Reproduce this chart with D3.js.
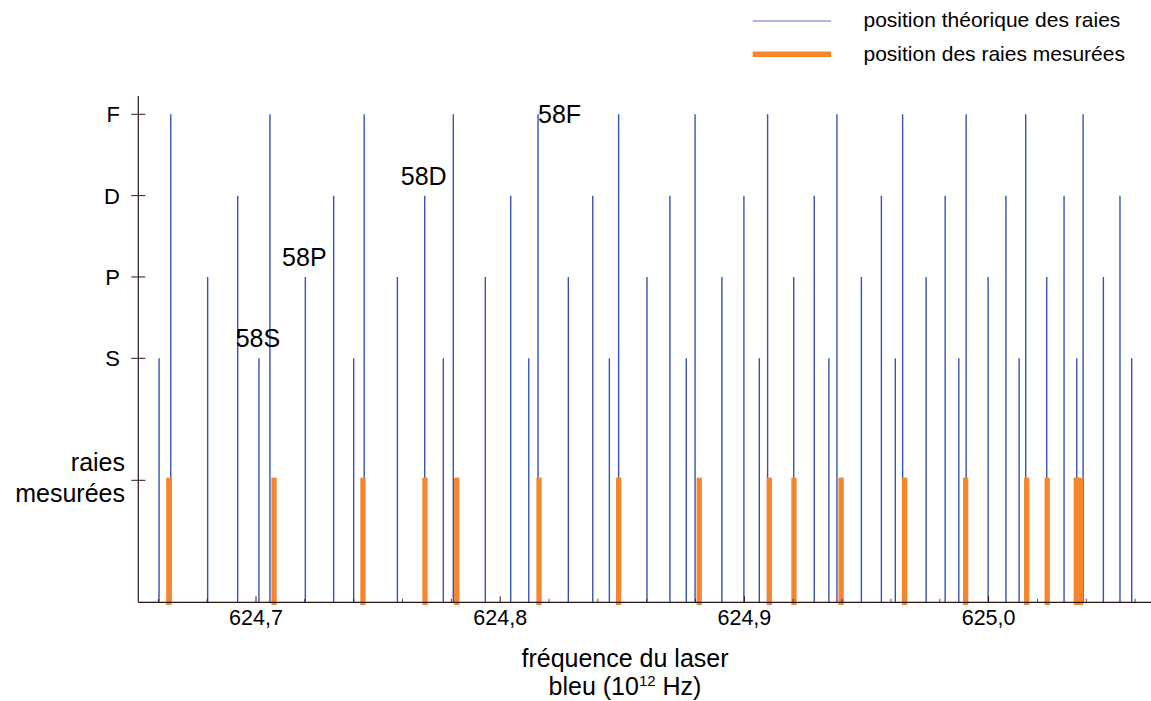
<!DOCTYPE html>
<html>
<head>
<meta charset="utf-8">
<script src="https://cdn.jsdelivr.net/npm/d3@7"></script>
<style>
  html, body { margin: 0; padding: 0; background: #fff; }
  svg { display: block; font-family: "Liberation Sans", Arial, Helvetica, sans-serif; }
</style>
</head>
<body>
<svg id="chart" width="1151" height="701"></svg>
<script>
// Theoretical line positions (10^12 Hz) for each Rydberg series
const sLines = [624.6603, 624.7012, 624.7400, 624.7767, 624.8117, 624.8447, 624.8762, 624.9061, 624.9346, 624.9618, 624.9878, 625.0125, 625.0361, 625.0586];
const pLines = [624.6802, 624.7202, 624.7579, 624.7939, 624.8279, 624.8601, 624.8908, 624.9202, 624.9479, 624.9744, 624.9998, 625.0238, 625.0470];
const dLines = [624.6925, 624.7318, 624.7691, 624.8043, 624.8379, 624.8695, 624.8998, 624.9286, 624.9561, 624.9822, 625.0071, 625.0309, 625.0538];
const fLines = [624.6651, 624.7057, 624.7443, 624.7808, 624.8155, 624.8485, 624.8798, 624.9095, 624.9379, 624.9648, 624.9908, 625.0152, 625.0387];

// Measured line positions (10^12 Hz)
const measured = [624.6643, 624.7074, 624.7438, 624.7692, 624.7822, 624.8159, 624.8485, 624.8815, 624.9102, 624.9203, 624.9396, 624.9656, 624.9906, 625.0156, 625.0240, 625.0359, 625.0377];

// Vertical levels and their labels
const seriesNames = ["S", "P", "D", "F"];
const seriesLevels = [1, 2, 3, 4];
const measuredLevel = -0.5;
const measuredLabel = ["raies", "mesurées"];

// x-axis ticks
const majorTicks = [624.7, 624.8, 624.9, 625.0];
const minorTicks = [624.66, 624.68, 624.72, 624.74, 624.76, 624.78, 624.82, 624.84, 624.86, 624.88, 624.92, 624.94, 624.96, 624.98, 625.02, 625.04, 625.06];

// Annotated n = 58 lines
const annotations = [
  { text: "58S", series: "S", index: 1 },
  { text: "58P", series: "P", index: 1 },
  { text: "58D", series: "D", index: 2 },
  { text: "58F", series: "F", index: 4 }
];

const legendItems = ["position théorique des raies", "position des raies mesurées"];

const svg = d3.select("#chart");
const blue = "#3852b0";
const orange = "#f5862e";
const axisColor = "#2a1414";

const x = d3.scaleLinear().domain([624.7, 625.0]).range([256, 988.6]);
const y = d3.scaleLinear().domain([-2, 4]).range([602.3, 114.3]);
const yTop = 4.225;
const xLeft = 138.3, xRight = 1151;

const seriesData = { S: sLines, P: pLines, D: dLines, F: fLines };

// Theoretical lines
const plot = svg.append("g");
seriesNames.forEach((name, i) => {
  plot.selectAll(null)
    .data(seriesData[name])
    .enter().append("line")
    .attr("x1", d => x(d)).attr("x2", d => x(d))
    .attr("y1", y(seriesLevels[i])).attr("y2", y(-2))
    .attr("stroke", blue)
    .attr("stroke-width", 1.4);
});

// Measured lines
plot.selectAll(null)
  .data(measured)
  .enter().append("line")
  .attr("x1", d => x(d)).attr("x2", d => x(d))
  .attr("y1", y(measuredLevel)).attr("y2", y(-2))
  .attr("stroke", orange)
  .attr("stroke-width", 5.3)
  .attr("stroke-linecap", "square");

// Axes
const axes = svg.append("g").attr("stroke", axisColor).attr("fill", "none");
axes.append("line").attr("x1", xLeft).attr("x2", xLeft).attr("y1", y(yTop)).attr("y2", y(-2)).attr("stroke-width", 1.2);
axes.append("line").attr("x1", xLeft).attr("x2", xRight).attr("y1", y(-2)).attr("y2", y(-2)).attr("stroke-width", 1.2);

axes.selectAll(null).data(majorTicks).enter().append("line")
  .attr("x1", d => x(d)).attr("x2", d => x(d))
  .attr("y1", y(-2)).attr("y2", y(-2) - 6).attr("stroke-width", 1);
axes.selectAll(null).data(minorTicks).enter().append("line")
  .attr("x1", d => x(d)).attr("x2", d => x(d))
  .attr("y1", y(-2)).attr("y2", y(-2) - 3.5).attr("stroke-width", 0.8);

axes.selectAll(null).data(seriesLevels.concat([measuredLevel])).enter().append("line")
  .attr("x1", xLeft - 7).attr("x2", xLeft + 7)
  .attr("y1", d => y(d)).attr("y2", d => y(d)).attr("stroke-width", 1);

// x tick labels
svg.selectAll(null).data(majorTicks).enter().append("text")
  .attr("x", d => x(d)).attr("y", 625)
  .attr("text-anchor", "middle")
  .attr("font-size", 21.5).attr("fill", "#000")
  .text(d => d3.format(".1f")(d).replace(".", ","));

// y labels
svg.selectAll(null).data(seriesNames).enter().append("text")
  .attr("x", 120).attr("y", (d, i) => y(seriesLevels[i]) + 8)
  .attr("text-anchor", "end")
  .attr("font-size", 22).attr("fill", "#000")
  .text(d => d);

const ml = svg.append("text").attr("text-anchor", "end").attr("font-size", 25).attr("fill", "#000");
ml.append("tspan").attr("x", 125).attr("y", 470.5).text(measuredLabel[0]);
ml.append("tspan").attr("x", 125).attr("y", 502).text(measuredLabel[1]);

// n = 58 annotations
annotations.forEach(a => {
  const level = seriesLevels[seriesNames.indexOf(a.series)];
  const fx = x(seriesData[a.series][a.index]);
  const t = svg.append("text").attr("font-size", 25).attr("fill", "#000").text(a.text);
  if (a.series === "F") {
    t.attr("x", fx).attr("y", y(level) + 9).attr("text-anchor", "start");
  } else {
    t.attr("x", fx - 1).attr("y", y(level) - 11).attr("text-anchor", "middle");
  }
});

// x-axis title
const title = svg.append("text").attr("text-anchor", "middle").attr("font-size", 25).attr("fill", "#000");
title.append("tspan").attr("x", 625).attr("y", 667).text("fréquence du laser");
const l2 = title.append("tspan").attr("x", 625).attr("y", 695);
l2.append("tspan").text("bleu (10");
l2.append("tspan").attr("font-size", 15).attr("dy", -9).text("12");
l2.append("tspan").attr("dy", 9).text(" Hz)");

// Legend
const legend = svg.append("g");
legend.append("line").attr("x1", 752.7).attr("x2", 831).attr("y1", 21).attr("y2", 21)
  .attr("stroke", "#5b72c2").attr("stroke-width", 1);
legend.append("line").attr("x1", 752.7).attr("x2", 831).attr("y1", 54.3).attr("y2", 54.3)
  .attr("stroke", orange).attr("stroke-width", 5.5);
legend.selectAll(null).data(legendItems).enter().append("text")
  .attr("x", 863.5).attr("y", (d, i) => i === 0 ? 27 : 60.5)
  .attr("font-size", 21).attr("fill", "#000")
  .text(d => d);
</script>
</body>
</html>
